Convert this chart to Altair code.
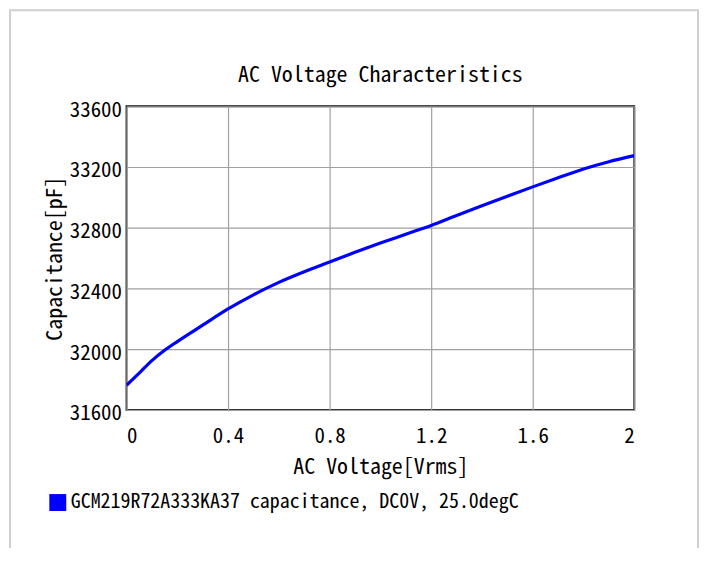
import altair as alt
import pandas as pd

voltage = [0, 0.05, 0.1, 0.15, 0.2, 0.3, 0.4, 0.5, 0.6, 0.7, 0.8, 0.9, 1.0,
           1.1, 1.2, 1.3, 1.4, 1.5, 1.6, 1.7, 1.8, 1.9, 2.0]
capacitance = [31762, 31842, 31925, 31993, 32050, 32158, 32265, 32358, 32440,
               32510, 32574, 32638, 32699, 32757, 32815, 32880, 32944, 33007,
               33069, 33129, 33187, 33235, 33275]
series_name = "GCM219R72A333KA37 capacitance, DC0V, 25.0degC"
x_ticks = [0, 0.4, 0.8, 1.2, 1.6, 2.0]
y_ticks = [31600, 32000, 32400, 32800, 33200, 33600]

FONT = "Noto Sans Mono CJK JP, DejaVu Sans Mono, monospace"

df = pd.DataFrame({"V": voltage, "C": capacitance, "series": [series_name] * len(voltage)})

frame = alt.Chart(pd.DataFrame({"a": [0]})).mark_rect(
    fill="transparent", stroke="#d0d0d4", strokeWidth=2
).encode(
    x=alt.value(-117), x2=alt.value(574), y=alt.value(-96.5), y2=alt.value(600)
)

line = alt.Chart(df).mark_line(strokeWidth=3.2, clip=True, interpolate="monotone").encode(
    x=alt.X("V:Q", scale=alt.Scale(domain=[0, 2], nice=False),
            axis=alt.Axis(values=x_ticks, title="AC Voltage[Vrms]",
                          labelExpr="datum.value == 0 ? '0' : datum.value == 2 ? '2' : format(datum.value, '.1f')",
                          labelPadding=16, titlePadding=10)),
    y=alt.Y("C:Q", scale=alt.Scale(domain=[31600, 33600], nice=False, zero=False),
            axis=alt.Axis(values=y_ticks, title="Capacitance[pF]", format="d",
                          labelPadding=5, labelOffset=4, titlePadding=3)),
    color=alt.Color("series:N", scale=alt.Scale(domain=[series_name], range=["#0000FF"]),
                    legend=alt.Legend(orient="none", legendX=-79, legendY=388, title=None,
                                      symbolType="square", symbolSize=289,
                                      symbolFillColor="#0000FF", symbolStrokeWidth=0,
                                      labelOffset=3, labelLimit=0, padding=0,
                                      labelFont=FONT, labelFontSize=20, labelColor="#000")),
)

chart = alt.layer(line, frame).properties(
    width=510, height=305,
    autosize=alt.AutoSizeParams(type="none"),
    padding={"left": 119, "top": 97.5, "right": 65, "bottom": 137.5},
    title=alt.TitleParams("AC Voltage Characteristics", font=FONT, fontSize=22,
                          fontWeight="normal", color="#000", offset=0, dy=95, frame="group",
                          baseline="alphabetic", anchor="middle"),
).configure_view(
    stroke="#111", strokeWidth=1.8
).configure_axis(
    grid=True, gridColor="#a0a0a0", gridWidth=1.2, gridOpacity=1,
    domain=False, ticks=False,
    labelFont=FONT, labelFontSize=21, labelColor="#000",
    titleFont=FONT, titleFontSize=22, titleFontWeight="normal", titleColor="#000",
)

chart.save("out.html", embed_options={"renderer": "svg", "actions": False})
